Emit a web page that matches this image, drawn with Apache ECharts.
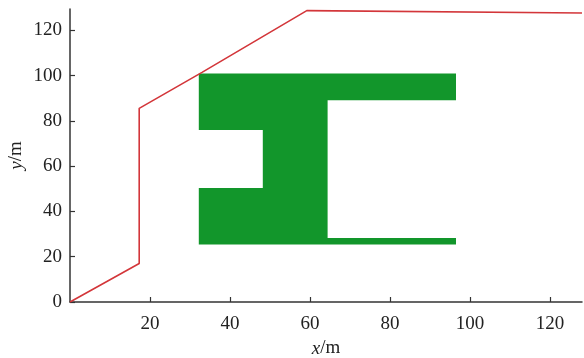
<!DOCTYPE html>
<html>
<head>
<meta charset="utf-8">
<script src="https://cdn.jsdelivr.net/npm/echarts@6/dist/echarts.min.js"></script>
<style>html,body{margin:0;padding:0;background:#fff}#c{width:584px;height:358px}</style>
</head>
<body>
<div id="c"></div>
<script>
// Boundary line (red)
const redX = [0, 17.3, 17.3, 33, 59.2, 128];
const redY = [0, 17, 85.6, 101.5, 128.8, 127.7];
// Green shape vertices
const greenX = [32.2, 96.5, 96.5, 64.4, 64.4, 96.5, 96.5, 32.2, 32.2, 48.2, 48.2, 32.2];
const greenY = [101, 101, 89.2, 89.2, 28.3, 28.3, 25.4, 25.4, 50.4, 50.4, 76, 76];
// Tick labels
const xTicks = [20, 40, 60, 80, 100, 120];
const yTicks = [0, 20, 40, 60, 80, 100, 120];

const font = 'Liberation Serif';
const chart = echarts.init(document.getElementById('c'));
const axisCommon = {
  type: 'value',
  splitLine: { show: false },
  axisLine: { show: true, onZero: false, lineStyle: { color: '#333', width: 1.5 } },
  axisTick: { show: true, inside: true, length: 5, lineStyle: { color: '#333', width: 1.2 } },
  axisLabel: { color: '#222', fontFamily: font, fontSize: 19 }
};
chart.setOption({
  animation: false,
  backgroundColor: '#fff',
  grid: { left: 70, right: 2, top: 9, bottom: 56, containLabel: false, outerBoundsMode: 'none' },
  xAxis: Object.assign({}, axisCommon, {
    min: 0, max: 128,
    axisTick: Object.assign({}, axisCommon.axisTick, { customValues: xTicks }),
    axisLabel: Object.assign({}, axisCommon.axisLabel, { customValues: xTicks, margin: 13 }),
    name: '{i|x}/m', nameLocation: 'middle', nameGap: 37, nameMoveOverlap: false,
    nameTextStyle: { color: '#222', fontFamily: font, fontSize: 19,
      rich: { i: { fontStyle: 'italic', fontFamily: font, fontSize: 19, color: '#222' } } }
  }),
  yAxis: Object.assign({}, axisCommon, {
    min: 0, max: 129.5,
    axisTick: Object.assign({}, axisCommon.axisTick, { customValues: yTicks }),
    axisLabel: Object.assign({}, axisCommon.axisLabel, { customValues: yTicks, margin: 8 }),
    name: '{i|y}/m', nameLocation: 'middle', nameGap: 44, nameRotate: 90, nameMoveOverlap: false,
    nameTextStyle: { color: '#222', fontFamily: font, fontSize: 19,
      rich: { i: { fontStyle: 'italic', fontFamily: font, fontSize: 19, color: '#222' } } }
  }),
  series: [
    {
      type: 'custom',
      data: greenX.map((x, i) => [x, greenY[i]]),
      renderItem: function (params, api) {
        if (params.dataIndex !== 0) return null;
        const pts = greenX.map((x, i) => api.coord([x, greenY[i]]));
        return { type: 'polygon', shape: { points: pts }, style: { fill: '#12962b', stroke: null } };
      },
      z: 2
    },
    {
      type: 'line',
      data: redX.map((x, i) => [x, redY[i]]),
      showSymbol: false,
      lineStyle: { color: '#d3363a', width: 1.6 },
      z: 3
    }
  ]
});
</script>
</body>
</html>
